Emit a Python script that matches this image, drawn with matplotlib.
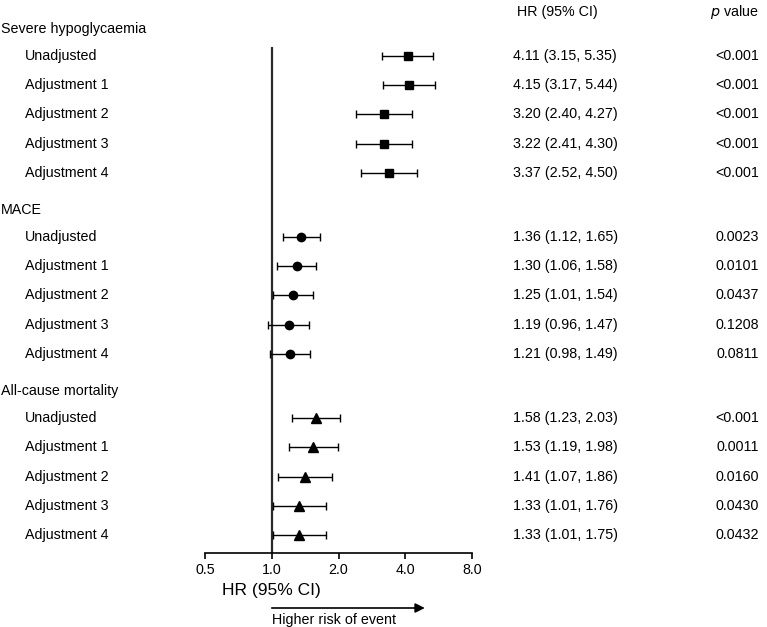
import numpy as np
import matplotlib
matplotlib.use('Agg')
import matplotlib.pyplot as plt
import matplotlib.transforms as mtransforms

plt.rcParams['font.family'] = ['Liberation Sans', 'DejaVu Sans']

# --- # data
groups = ['Severe hypoglycaemia', 'MACE', 'All-cause mortality']
rows = ['Unadjusted', 'Adjustment 1', 'Adjustment 2', 'Adjustment 3', 'Adjustment 4']
markers = ['s', 'o', '^']
msizes = [5.5, 6, 6.5]

hr_severe = [4.11, 4.15, 3.20, 3.22, 3.37]
lo_severe = [3.15, 3.17, 2.40, 2.41, 2.52]
hi_severe = [5.35, 5.44, 4.27, 4.30, 4.50]
p_severe = ['<0.001', '<0.001', '<0.001', '<0.001', '<0.001']

hr_mace = [1.36, 1.30, 1.25, 1.19, 1.21]
lo_mace = [1.12, 1.06, 1.01, 0.96, 0.98]
hi_mace = [1.65, 1.58, 1.54, 1.47, 1.49]
p_mace = ['0.0023', '0.0101', '0.0437', '0.1208', '0.0811']

hr_death = [1.58, 1.53, 1.41, 1.33, 1.33]
lo_death = [1.23, 1.19, 1.07, 1.01, 1.01]
hi_death = [2.03, 1.98, 1.86, 1.76, 1.75]
p_death = ['<0.001', '0.0011', '0.0160', '0.0430', '0.0432']

hrs = [hr_severe, hr_mace, hr_death]
los = [lo_severe, lo_mace, lo_death]
his = [hi_severe, hi_mace, hi_death]
ps = [p_severe, p_mace, p_death]

xticks = [0.5, 1.0, 2.0, 4.0, 8.0]

# --- # layout (row units)
head_gap = 0.93
group_gap = 1.28
fs = 10.3

fig = plt.figure(figsize=(7.67, 6.27), dpi=100)
ax = fig.add_axes([205 / 767, 1 - 553 / 627, 267 / 767, 506 / 627])

y = 0.0
head_y = []
item_y = []
for g in range(len(groups)):
    head_y.append(y)
    y += head_gap
    ys = [y + k for k in range(len(rows))]
    item_y.append(ys)
    y = ys[-1] + group_gap

last = item_y[-1][-1]
ax.set_ylim(last + 0.62, item_y[0][0] - 0.31)

ax.axvline(1.0, color='#2a2a2a', lw=1.6, zorder=1)

for g in range(len(groups)):
    hr = np.array(hrs[g])
    err = [hr - np.array(los[g]), np.array(his[g]) - hr]
    ax.errorbar(hr, item_y[g], xerr=err, fmt=markers[g], color='black',
                ecolor='black', elinewidth=1, capsize=3, capthick=1,
                markersize=msizes[g], zorder=3, clip_on=False)

ax.set_xscale('log')
ax.set_xlim(0.5, 8.0)
ax.set_xticks(xticks)
ax.set_xticklabels(['%.1f' % t for t in xticks])
ax.minorticks_off()
ax.set_yticks([])
for s in ['top', 'right', 'left']:
    ax.spines[s].set_visible(False)
ax.spines['bottom'].set_linewidth(1.2)
ax.tick_params(axis='x', direction='out', length=4, width=1.2, pad=3, labelsize=fs)

# --- # text columns
tr = mtransforms.blended_transform_factory(fig.transFigure, ax.transData)
for g in range(len(groups)):
    ax.text(1 / 767, head_y[g], groups[g], transform=tr, fontsize=fs,
            va='center', ha='left', clip_on=False)
    for k in range(len(rows)):
        yy = item_y[g][k]
        ax.text(25 / 767, yy, rows[k], transform=tr, fontsize=fs,
                va='center', ha='left', clip_on=False)
        ax.text(513 / 767, yy, '%.2f (%.2f, %.2f)' % (hrs[g][k], los[g][k], his[g][k]),
                transform=tr, fontsize=fs, va='center', ha='left', clip_on=False)
        ax.text(759 / 767, yy, ps[g][k], transform=tr, fontsize=fs,
                va='center', ha='right', clip_on=False)

ax.text(557 / 767, head_y[0] - 0.58, 'HR (95% CI)', transform=tr, fontsize=fs,
        va='center', ha='center', clip_on=False)
ax.text(759 / 767, head_y[0] - 0.58, r'$\it{p}$ value', transform=tr, fontsize=fs,
        va='center', ha='right', clip_on=False)

# --- # axis title and arrow
trx = mtransforms.blended_transform_factory(ax.transData, fig.transFigure)
ax.text(1.0, 1 - 591 / 627, 'HR (95% CI)', transform=trx, fontsize=12.5,
        ha='center', va='center')
ax.annotate('', xy=(4.9, 1 - 608 / 627), xytext=(1.0, 1 - 608 / 627),
            xycoords=trx, textcoords=trx,
            arrowprops=dict(arrowstyle='-|>', color='black', lw=1.2, mutation_scale=14,
                            shrinkA=0, shrinkB=0))
ax.text(1.0, 1 - 620 / 627, 'Higher risk of event', transform=trx, fontsize=fs,
        ha='left', va='center')

fig.savefig('out.png', dpi=100)
